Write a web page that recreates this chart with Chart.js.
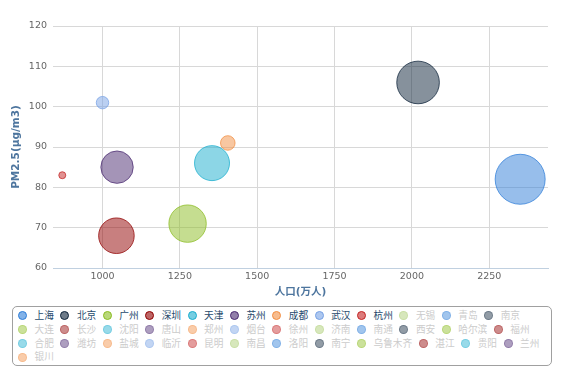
<!DOCTYPE html>
<html lang="zh-CN">
<head>
<meta charset="UTF-8">
<title>城市人口与PM2.5</title>
<script src="https://cdn.jsdelivr.net/npm/chart.js@4/dist/chart.umd.min.js"></script>
<style>
    body { margin: 0; background: #fff; }
    #wrap { position: relative; width: 574px; height: 377px; }
    #chart { position: absolute; left: 0; top: 0; }

    /* legend box under the plot */
    #legend {
        position: absolute;
        left: 12px;
        top: 306px;
        width: 540px;
        height: 60px;
        box-sizing: border-box;
        border: 1px solid #a0a0a0;
        border-radius: 5px;
        padding: 2px 0 0 5px;
        display: flex;
        flex-wrap: wrap;
        align-content: flex-start;
        column-gap: 6.5px;
        font-family: "Noto Sans CJK SC", sans-serif;
        font-size: 9.7px;
    }
    .item { display: flex; align-items: center; height: 13.8px; line-height: 13.8px; cursor: pointer; }
    .dot { width: 9px; height: 9px; border-radius: 50%; box-sizing: border-box; margin-right: 7.5px; }
</style>
</head>
<body>
<div id="wrap">
    <canvas id="chart" width="574" height="300"></canvas>
    <div id="legend"></div>
</div>
<script>
    // cities in legend order (only the first ones have points shown)
    const cities = ['上海', '北京', '广州', '深圳', '天津', '苏州', '成都', '武汉', '杭州', '无锡', '青岛', '南京',
        '大连', '长沙', '沈阳', '唐山', '郑州', '烟台', '徐州', '济南', '南通', '西安', '哈尔滨', '福州',
        '合肥', '潍坊', '盐城', '临沂', '昆明', '南昌', '洛阳', '南宁', '乌鲁木齐', '湛江', '贵阳', '兰州',
        '银川'];
    const population = [2350, 2020, 1275, 1045, 1354, 1047, 1405, 1000, 870];   // 人口(万人)
    const pm25 = [82, 106, 71, 68, 86, 85, 91, 101, 83];                        // PM2.5(μg/m3)
    const bubbleZ = [2300, 1672, 1300, 1184, 1148, 998, 362, 332, 300];         // bubble size value
    const xTicks = [1000, 1250, 1500, 1750, 2000, 2250];
    const palette = ['#2f7ed8', '#0d233a', '#8bbc21', '#910000', '#1aadce',
        '#492970', '#f28f43', '#77a1e5', '#c42525', '#a6c96a'];

    function hexToRgba(hex, a) {
        const n = parseInt(hex.slice(1), 16);
        return 'rgba(' + (n >> 16) + ',' + ((n >> 8) & 255) + ',' + (n & 255) + ',' + a + ')';
    }

    // bubble area grows with z, like the original chart
    const zMin = Math.min(...bubbleZ);
    const zMax = Math.max(...bubbleZ);
    function bubbleRadius(z) {
        return 3.5 + Math.sqrt((z - zMin) / (zMax - zMin)) * 21.5;
    }

    const datasets = cities.map((name, i) => {
        const color = palette[i % palette.length];
        const hasData = i < population.length;
        return {
            label: name,
            data: hasData ? [{ x: population[i], y: pm25[i], r: bubbleRadius(bubbleZ[i]) }] : [],
            backgroundColor: hexToRgba(color, 0.5),
            borderColor: hexToRgba(color, 0.75),
            hoverBackgroundColor: hexToRgba(color, 0.5),
            hoverBorderColor: hexToRgba(color, 0.75),
            borderWidth: 1,
            hoverBorderWidth: 1,
            hidden: !hasData,
            _color: color
        };
    });

    Chart.defaults.font.family = '"DejaVu Sans", "Noto Sans CJK SC", sans-serif';

    const gridColor = '#d8d8d8';
    const titleColor = '#4d759e';

    const chart = new Chart(document.getElementById('chart'), {
        type: 'bubble',
        data: { datasets: datasets },
        options: {
            responsive: false,
            animation: false,
            layout: { padding: { top: 20, right: 18, bottom: 0, left: 0 } },
            plugins: {
                legend: { display: false },
                tooltip: {
                    callbacks: {
                        label: c => c.dataset.label + ': ' + c.raw.x + '万人, PM2.5 ' + c.raw.y
                    }
                }
            },
            scales: {
                x: {
                    type: 'linear',
                    min: 840,
                    max: 2440,
                    afterBuildTicks: s => { s.ticks = xTicks.map(v => ({ value: v })); },
                    afterFit: s => { s.height = 32; },
                    grid: { color: gridColor, drawTicks: false },
                    border: { color: '#c0d0e0' },
                    ticks: {
                        padding: 3,
                        color: '#666',
                        font: { size: 9.5 },
                        callback: v => String(v)
                    },
                    title: {
                        display: true,
                        text: '人口(万人)',
                        color: titleColor,
                        font: { size: 10.5, weight: 'bold' },
                        padding: { top: 0, bottom: 1 }
                    }
                },
                y: {
                    min: 60,
                    max: 120,
                    afterFit: s => { s.width = 53; },
                    grid: {
                        color: c => c.tick.value === 60 ? 'rgba(0,0,0,0)' : gridColor,
                        drawTicks: false
                    },
                    border: { display: false },
                    ticks: { stepSize: 10, padding: 6, color: '#666', font: { size: 9.5 } },
                    title: {
                        display: true,
                        text: 'PM2.5(μg/m3)',
                        color: titleColor,
                        font: { size: 10.5, weight: 'bold' },
                        padding: { top: 10, bottom: 0 }
                    }
                }
            }
        }
    });

    // html legend with a border, hidden series greyed out
    function buildLegend() {
        const box = document.getElementById('legend');
        box.innerHTML = '';
        chart.data.datasets.forEach((ds, i) => {
            const shown = chart.isDatasetVisible(i);
            const item = document.createElement('div');
            item.className = 'item';
            const dot = document.createElement('span');
            dot.className = 'dot';
            if (shown) {
                dot.style.background = hexToRgba(ds._color, 0.6);
                dot.style.border = '1px solid ' + ds._color;
            } else {
                dot.style.background = hexToRgba(ds._color, 0.45);
                dot.style.border = '1px solid ' + hexToRgba(ds._color, 0.3);
            }
            const txt = document.createElement('span');
            txt.textContent = ds.label;
            txt.style.color = shown ? '#274b6d' : '#cccccc';
            item.appendChild(dot);
            item.appendChild(txt);
            item.onclick = () => {
                chart.setDatasetVisibility(i, !chart.isDatasetVisible(i));
                chart.update();
                buildLegend();
            };
            box.appendChild(item);
        });
    }
    buildLegend();
</script>
</body>
</html>
